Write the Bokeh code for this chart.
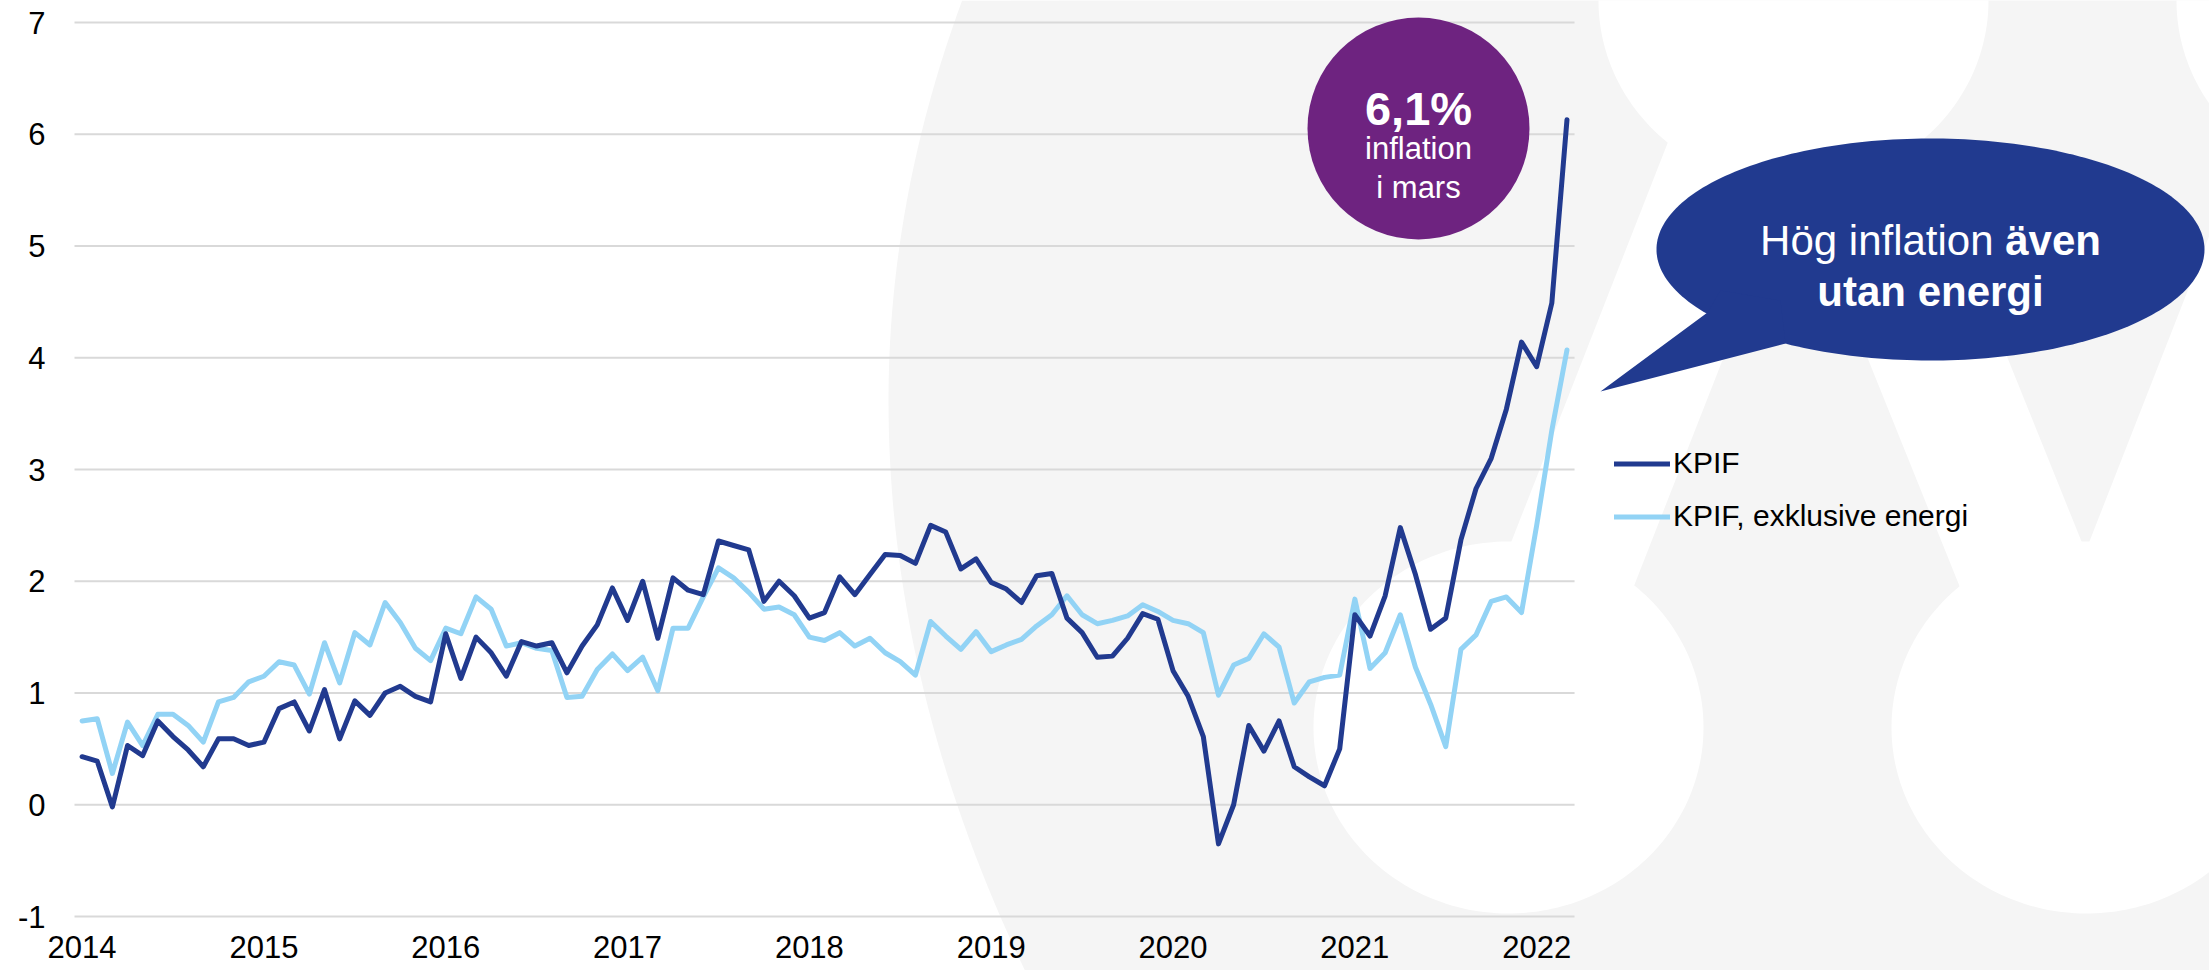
import numpy as np
from bokeh.plotting import figure
from bokeh.models import Range1d, FixedTicker, Legend, LegendItem
from bokeh.core.properties import value
from bokeh.embed import file_html
from bokeh.resources import INLINE

# ---------------- data ----------------
years = ["2014", "2015", "2016", "2017", "2018", "2019", "2020", "2021", "2022"]
y_ticks = [-1, 0, 1, 2, 3, 4, 5, 6, 7]

kpif = [
    0.43, 0.39, -0.02, 0.53, 0.44, 0.75, 0.61, 0.49, 0.34, 0.59, 0.59, 0.53,   # 2014
    0.56, 0.86, 0.92, 0.66, 1.03, 0.59, 0.93, 0.80, 1.00, 1.06, 0.97, 0.92,    # 2015
    1.53, 1.13, 1.50, 1.36, 1.15, 1.46, 1.42, 1.45, 1.18, 1.42, 1.61, 1.94,    # 2016
    1.65, 2.00, 1.49, 2.03, 1.92, 1.88, 2.36, 2.32, 2.28, 1.82, 2.00, 1.87,    # 2017
    1.67, 1.72, 2.04, 1.88, 2.06, 2.24, 2.23, 2.16, 2.50, 2.44, 2.11, 2.20,    # 2018
    1.99, 1.93, 1.81, 2.05, 2.07, 1.67, 1.54, 1.32, 1.33, 1.49, 1.71, 1.66,    # 2019
    1.20, 0.97, 0.61, -0.35, 0.00, 0.71, 0.48, 0.75, 0.34, 0.25, 0.17, 0.50,   # 2020
    1.70, 1.51, 1.87, 2.48, 2.06, 1.57, 1.67, 2.37, 2.83, 3.10, 3.54, 4.14,    # 2021
    3.92, 4.49, 6.13,                                                          # 2022
]
kpif_exkl_energi = [
    0.75, 0.77, 0.28, 0.74, 0.53, 0.81, 0.81, 0.71, 0.56, 0.92, 0.96, 1.10,    # 2014
    1.15, 1.28, 1.25, 0.99, 1.45, 1.09, 1.54, 1.43, 1.81, 1.63, 1.40, 1.29,    # 2015
    1.58, 1.53, 1.86, 1.75, 1.42, 1.45, 1.40, 1.38, 0.96, 0.97, 1.21, 1.35,    # 2016
    1.20, 1.32, 1.02, 1.58, 1.58, 1.86, 2.12, 2.03, 1.90, 1.75, 1.77, 1.70,    # 2017
    1.50, 1.47, 1.54, 1.42, 1.49, 1.36, 1.28, 1.16, 1.64, 1.51, 1.39, 1.55,    # 2018
    1.37, 1.43, 1.48, 1.60, 1.70, 1.87, 1.70, 1.62, 1.65, 1.69, 1.79, 1.73,    # 2019
    1.65, 1.62, 1.54, 0.98, 1.25, 1.31, 1.53, 1.41, 0.91, 1.10, 1.14, 1.16,    # 2020
    1.84, 1.22, 1.36, 1.70, 1.23, 0.90, 0.52, 1.39, 1.52, 1.82, 1.86, 1.72,    # 2021
    2.50, 3.35, 4.07,                                                          # 2022
]
months = list(range(len(kpif)))
series_names = ["KPIF", "KPIF, exklusive energi"]

# ---------------- styling / geometry ----------------
DARK = "#213A8F"
LIGHT = "#92D3F5"
PURPLE = "#6E2380"
GRAYBG = "#F5F5F5"
GRID = "#D9D9D9"
FONT = "Liberation Sans"

W, H = 2209, 970
X0_REF, PX_MONTH = 81.58, 15.152
Y7_REF, PX_UNIT = 22.0, 111.75

x_start = (0 - X0_REF) / PX_MONTH
x_end = (W - X0_REF) / PX_MONTH
y_end = 7 + Y7_REF / PX_UNIT
y_start = 7 - (H - Y7_REF) / PX_UNIT

p = figure(width=W, height=H, output_backend="svg", toolbar_location=None,
           x_range=Range1d(x_start, x_end), y_range=Range1d(y_start, y_end),
           min_border=0, min_border_left=0, min_border_right=0,
           min_border_top=0, min_border_bottom=0)
p.extra_x_ranges = {"px": Range1d(0, W)}
p.extra_y_ranges = {"px": Range1d(H, 0)}
p.outline_line_color = None
p.background_fill_color = "white"
p.border_fill_color = "white"
p.xgrid.visible = False
p.ygrid.visible = False

PXR = dict(x_range_name="px", y_range_name="px")


def ellipse_pts(cx, cy, rx, ry, n=240):
    t = np.linspace(0, 2 * np.pi, n)
    return list(cx + rx * np.cos(t)), list(cy + ry * np.sin(t))


# background decoration (light grey logo shape with white holes and bands)
ys_arc = np.linspace(0, 970, 60)
xs_arc = np.where(ys_arc < 400, 888 + 4.6e-4 * (ys_arc - 400) ** 2,
                  888 + 4.2e-4 * (ys_arc - 400) ** 2)
gx = list(xs_arc) + [2215, 2215]
gy = list(ys_arc) + [975, -5]
p.patch(gx, gy, fill_color=GRAYBG, line_color=None, level="image", **PXR)

nodes_top = [(1793, 0), (2371, 0)]
nodes_bot = [(1508, 727), (2086, 727)]
wx, wy = [], []
for (cx, cy) in nodes_top + nodes_bot:
    ex, ey = ellipse_pts(cx, cy, 195, 186)
    wx.append(ex)
    wy.append(ey)
HW = 70
for (a, b) in [(nodes_top[0], nodes_bot[0]), (nodes_top[0], nodes_bot[1]), (nodes_top[1], nodes_bot[1])]:
    wx.append([a[0] - HW, a[0] + HW, b[0] + HW, b[0] - HW])
    wy.append([a[1], a[1], b[1], b[1]])
p.patches(wx, wy, fill_color="white", line_color=None, level="image", **PXR)

# gridlines
p.segment(x0=[-0.5] * len(y_ticks), x1=[98.5] * len(y_ticks), y0=y_ticks, y1=y_ticks,
          line_color=GRID, line_width=2, level="underlay")

# data lines
r_exkl = p.line(months, kpif_exkl_energi, line_color=LIGHT, line_width=5, line_join="round", line_cap="round")
r_kpif = p.line(months, kpif, line_color=DARK, line_width=5, line_join="round", line_cap="round")

# axes
xa = p.xaxis[0]
xa.ticker = FixedTicker(ticks=[12 * i for i in range(len(years))])
xa.major_label_overrides = {12 * i: y for i, y in enumerate(years)}
xa.fixed_location = -1
ya = p.yaxis[0]
ya.ticker = FixedTicker(ticks=y_ticks)
ya.major_label_overrides = {v: str(v) for v in y_ticks}
ya.fixed_location = -0.5
for ax in (xa, ya):
    ax.axis_line_color = None
    ax.major_tick_line_color = None
    ax.minor_tick_line_color = None
    ax.major_tick_out = 0
    ax.major_tick_in = 0
    ax.major_label_text_font = FONT
    ax.major_label_text_font_size = "31px"
    ax.major_label_text_color = "black"
xa.major_label_standoff = 19
ya.major_label_standoff = 29

# legend
legend = Legend(items=[LegendItem(label=series_names[0], renderers=[r_kpif]),
                       LegendItem(label=series_names[1], renderers=[r_exkl])],
                location=(1614, 431.5), glyph_width=56, glyph_height=45, label_height=45,
                spacing=8, padding=0, margin=0, label_standoff=3,
                label_text_font=FONT, label_text_font_size="30px", label_text_color="black",
                border_line_color=None, background_fill_alpha=0)
p.add_layout(legend)

# purple circle annotation
p.scatter(x=[1418], y=[128], size=222, marker="circle", fill_color=PURPLE, line_color=None, **PXR)
p.text(x=[1418], y=[108], text=["6,1%"], text_font=value(FONT), text_font_style="bold",
       text_font_size="47px", text_color="white", text_align="center", text_baseline="alphabetic", **PXR)
p.text(x=[1418, 1418], y=[148, 187], text=["inflation", "i mars"], text_font=value(FONT),
       text_font_size="31px", text_color="white", text_align="center", text_baseline="alphabetic", **PXR)

# speech bubble
bx, by = ellipse_pts(1930, 249, 274, 111)
p.patches([bx, [1707, 1600, 1785, 1780, 1720]], [by, [312, 391, 343, 300, 290]],
          fill_color=DARK, line_color=None, **PXR)
p.text(x=[1759.6], y=[240], text=["Hög inflation"], text_font=value(FONT), text_font_size="42px",
       text_color="white", text_align="left", text_baseline="alphabetic", **PXR)
p.text(x=[2004.7], y=[240], text=["även"], text_font=value(FONT), text_font_size="42px",
       text_font_style="bold", text_color="white", text_align="left", text_baseline="alphabetic", **PXR)
p.text(x=[1930], y=[290.7], text=["utan energi"], text_font=value(FONT), text_font_size="42px",
       text_font_style="bold", text_color="white", text_align="center", text_baseline="alphabetic", **PXR)

open("out.html", "w").write(file_html(p, INLINE))
